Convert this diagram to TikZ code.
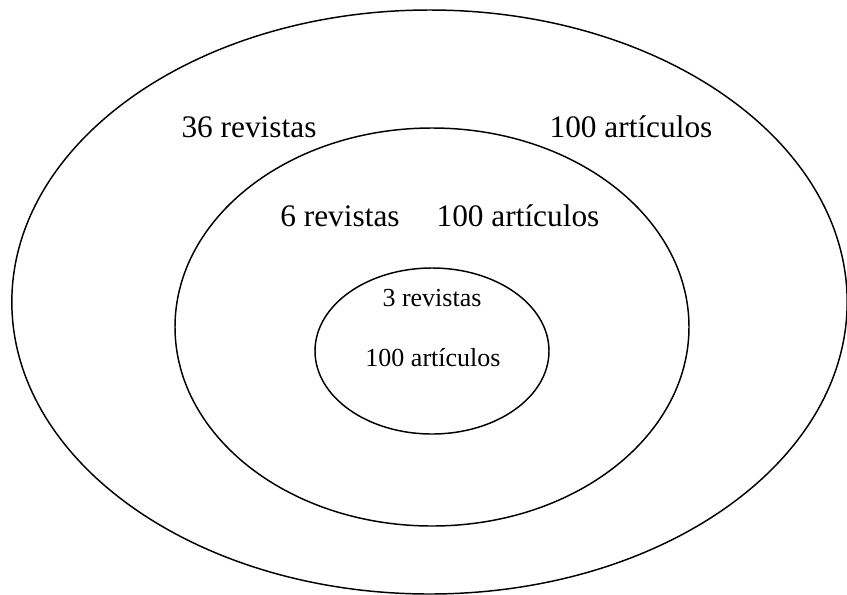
\documentclass[tikz,border=0pt]{standalone}
\usepackage{fontspec}
\setmainfont{Liberation Serif}
\usetikzlibrary{shapes.geometric}
\begin{document}
\begin{tikzpicture}[x=0.75pt,y=-0.75pt,
  ring/.style={draw=black,line width=1.1pt,ellipse,inner sep=0pt},
  bigtxt/.style={font=\fontsize{23.5pt}{28pt}\selectfont,inner sep=0pt,anchor=base},
  smalltxt/.style={font=\fontsize{19.5pt}{24pt}\selectfont,inner sep=0pt,anchor=base}]
\useasboundingbox (0,0) rectangle (847,594);
\node[ring,minimum width=626.5pt,minimum height=438pt] (outer) at (429.5,302) {};
\node[ring,minimum width=385.5pt,minimum height=298.5pt] (middle) at (432,327) {};
\node[ring,minimum width=175.5pt,minimum height=124.5pt] (inner) at (432,351) {};
\node[bigtxt] (t36) at (249,137) {36 revistas};
\node[bigtxt] (a36) at (631,137) {100 artículos};
\node[bigtxt] (t6) at (340,226) {6 revistas};
\node[bigtxt] (a6) at (518,226) {100 artículos};
\node[smalltxt] (t3) at (432,306) {3 revistas};
\node[smalltxt] (a3) at (433,366) {100 artículos};
\end{tikzpicture}
\end{document}
